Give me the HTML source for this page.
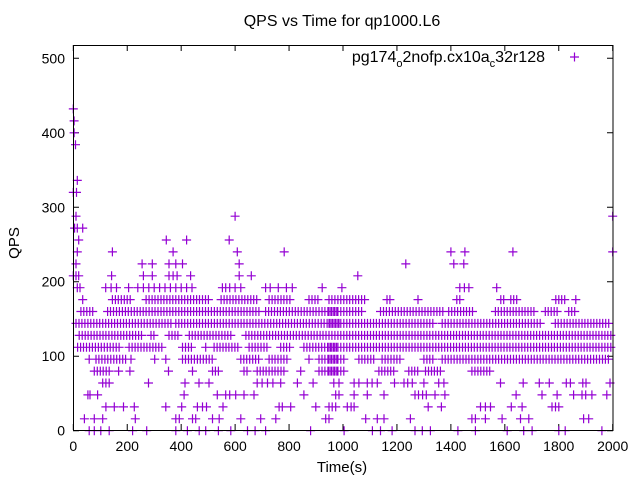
<!DOCTYPE html>
<html><head><meta charset="utf-8"><style>
body{margin:0;background:#fff}
svg{display:block;font-family:"Liberation Sans",sans-serif}
</style></head><body>
<svg id="c" width="640" height="480">
<text x="342" y="26" font-size="16" text-anchor="middle">QPS vs Time for qp1000.L6</text>
<text x="342" y="472" font-size="15" text-anchor="middle">Time(s)</text>
<text transform="translate(19,243) rotate(-90)" font-size="15" text-anchor="middle">QPS</text>
<g id="ticks"></g>
<g id="pts"></g>
<g>
<text x="545" y="62" font-size="16" text-anchor="end">pg174<tspan font-size="11" dy="5">o</tspan><tspan dy="-5">2nofp.cx10a</tspan><tspan font-size="11" dy="5">c</tspan><tspan dy="-5">32r128</tspan></text>
<path d="M570 57h9M574.5 52.5v9" stroke="#9400d3" stroke-width="1.2"/>
</g>
<rect x="73.5" y="45.5" width="539.5" height="385" fill="none" stroke="#000" stroke-width="1"/>
</svg>
<script>
const xTicks=[0,200,400,600,800,1000,1200,1400,1600,1800,2000];
const yTicks=[0,100,200,300,400,500];
// sparse points
const times=[0,3,3,8,15,12,0,10,600,2000,5,15,35,20,345,420,578,15,145,370,608,782,1400,1452,1630,2000,10,255,293,355,380,405,615,1233,1411,1448,0,10,20,142,260,293,355,370,385,435,615,660,1055,15,25,120,140,160,205,239,260,280,300,320,340,360,380,400,420,440,553,565,580,600,621,713,730,760,790,812,923,996,1433,1450,1467,1570,
59,78,102,133,220,272,380,423,467,491,538,584,646,674,713,880,1004,1109,1139,1182,1267,1294,1324,1426,1491,1609,1670,1701,1800,1824,1960,
41,78,109,230,380,393,442,454,516,541,621,695,751,936,948,1084,1127,1152,1250,1478,1491,1528,1590,1658,1689,1892,1911,
121,152,186,226,343,402,460,479,494,555,763,775,806,899,948,973,960,1016,1030,1041,1316,1365,1510,1528,1547,1624,1664,1775,1788,1800,
54,62,90,411,534,565,580,602,633,670,855,973,985,1041,1090,1152,1267,1280,1295,1309,1341,1378,1642,1738,1794,1855,1886,1900,1923,1978,
109,121,133,279,414,466,503,682,700,720,740,769,831,889,966,985,1041,1059,1090,1108,1127,1191,1226,1240,1257,1300,1355,1374,1584,1668,1728,1765,1828,1843,1889,1901,1990];
const qps=[432,416,400,384,336,320,320,288,288,288,272,272,272,256,256,256,256,240,240,240,240,240,240,240,240,240,224,224,224,224,224,224,224,224,224,224,208,208,208,208,208,208,208,208,208,208,208,208,208,192,192,192,192,192,192,192,192,192,192,192,192,192,192,192,192,192,192,192,192,192,192,192,192,192,192,192,192,192,192,192,192,192,
0,0,0,0,0,0,0,0,0,0,0,0,0,0,0,0,0,0,0,0,0,0,0,0,0,0,0,0,0,0,0,
16,16,16,16,16,16,16,16,16,16,16,16,16,16,16,16,16,16,16,16,16,16,16,16,16,16,16,
32,32,32,32,32,32,32,32,32,32,32,32,32,32,32,32,32,32,32,32,32,32,32,32,32,32,32,32,32,32,
48,48,48,48,48,48,48,48,48,48,48,48,48,48,48,48,48,48,48,48,48,48,48,48,48,48,48,48,48,48,
64,64,64,64,64,64,64,64,64,64,64,64,64,64,64,64,64,64,64,64,64,64,64,64,64,64,64,64,64,64,64,64,64,64,64,64,64];
// dense runs of points (level, start time, end time)
const runLevel=[80,80,80,80,80,80,80,80,80,80,80,80,80,80,80,
96,96,96,96,96,96,96,96,96,96,96,96,96,96,96,
112,112,112,112,112,112,112,112,112,
128,128,128,128,128,128,
144,144,144,144,144,
160,160,160,160,160,160,160,160,160,
176,176,176,176,176,176,176,176,176,176,176,176,176,176];
const runStart=[78,168,210,353,442,516,633,682,843,911,948,1133,1244,1306,1478,
59,84,214,302,343,405,621,726,874,911,948,1059,1145,1300,1368,
16,207,405,491,522,652,769,855,948,
22,288,355,430,640,948,
10,380,948,1368,1787,
28,127,713,948,1139,1392,1565,1750,1837,
35,145,270,548,726,874,948,1163,1278,1422,1585,1622,1789,1863];
const runEnd=[133,172,214,357,446,541,652,787,847,985,1004,1195,1281,1361,1547,
63,195,218,306,347,516,689,800,878,985,1010,1121,1219,1337,1990,
170,331,448,495,615,720,812,985,2000,
263,306,393,590,985,2000,
362,985,1343,1738,1990,
78,689,985,1078,1374,1485,1713,1800,1868,
35,215,510,690,812,911,1085,1181,1278,1433,1596,1644,1826,1863];
const X=t=>73.3+t*(612.7-73.3)/2000;
const Y=v=>430.7-v*(430.7-58.3)/500;
const NS="http://www.w3.org/2000/svg";
const tk=document.getElementById('ticks');
xTicks.forEach(t=>{
  const x=X(t);
  const p=document.createElementNS(NS,'path');
  p.setAttribute('d',`M${x} 430v-6M${x} 45v6`);p.setAttribute('stroke','#000');
  
  
  tk.appendChild(p);
  const l=document.createElementNS(NS,'text');
  l.setAttribute('x',x);l.setAttribute('y',451);l.setAttribute('font-size','14');l.setAttribute('text-anchor','middle');
  l.textContent=t;
  
  
  tk.appendChild(l);
});
yTicks.forEach(v=>{
  const y=Y(v);
  const p=document.createElementNS(NS,'path');
  p.setAttribute('d',`M73 ${y}h6M613 ${y}h-6`);p.setAttribute('stroke','#000');
  
  
  tk.appendChild(p);
  const l=document.createElementNS(NS,'text');
  l.setAttribute('x',65);l.setAttribute('y',y+5);l.setAttribute('font-size','14');l.setAttribute('text-anchor','end');
  l.textContent=v;
  
  
  tk.appendChild(l);
});
let d='';
const plus=(t,v)=>{const x=X(t),y=Y(v);d+=`M${(x-4.5).toFixed(1)} ${y.toFixed(1)}h9M${x.toFixed(1)} ${(y-4.5).toFixed(1)}v9`;};
times.forEach((t,i)=>plus(t,qps[i]));
runLevel.forEach((lv,i)=>{for(let t=runStart[i];t<=runEnd[i];t+=11)plus(t,lv);});
const pp=document.createElementNS(NS,'path');
pp.setAttribute('d',d);pp.setAttribute('stroke','#9400d3');pp.setAttribute('stroke-width','1.2');pp.setAttribute('fill','none');


document.getElementById('pts').appendChild(pp);
</script>
</body></html>
